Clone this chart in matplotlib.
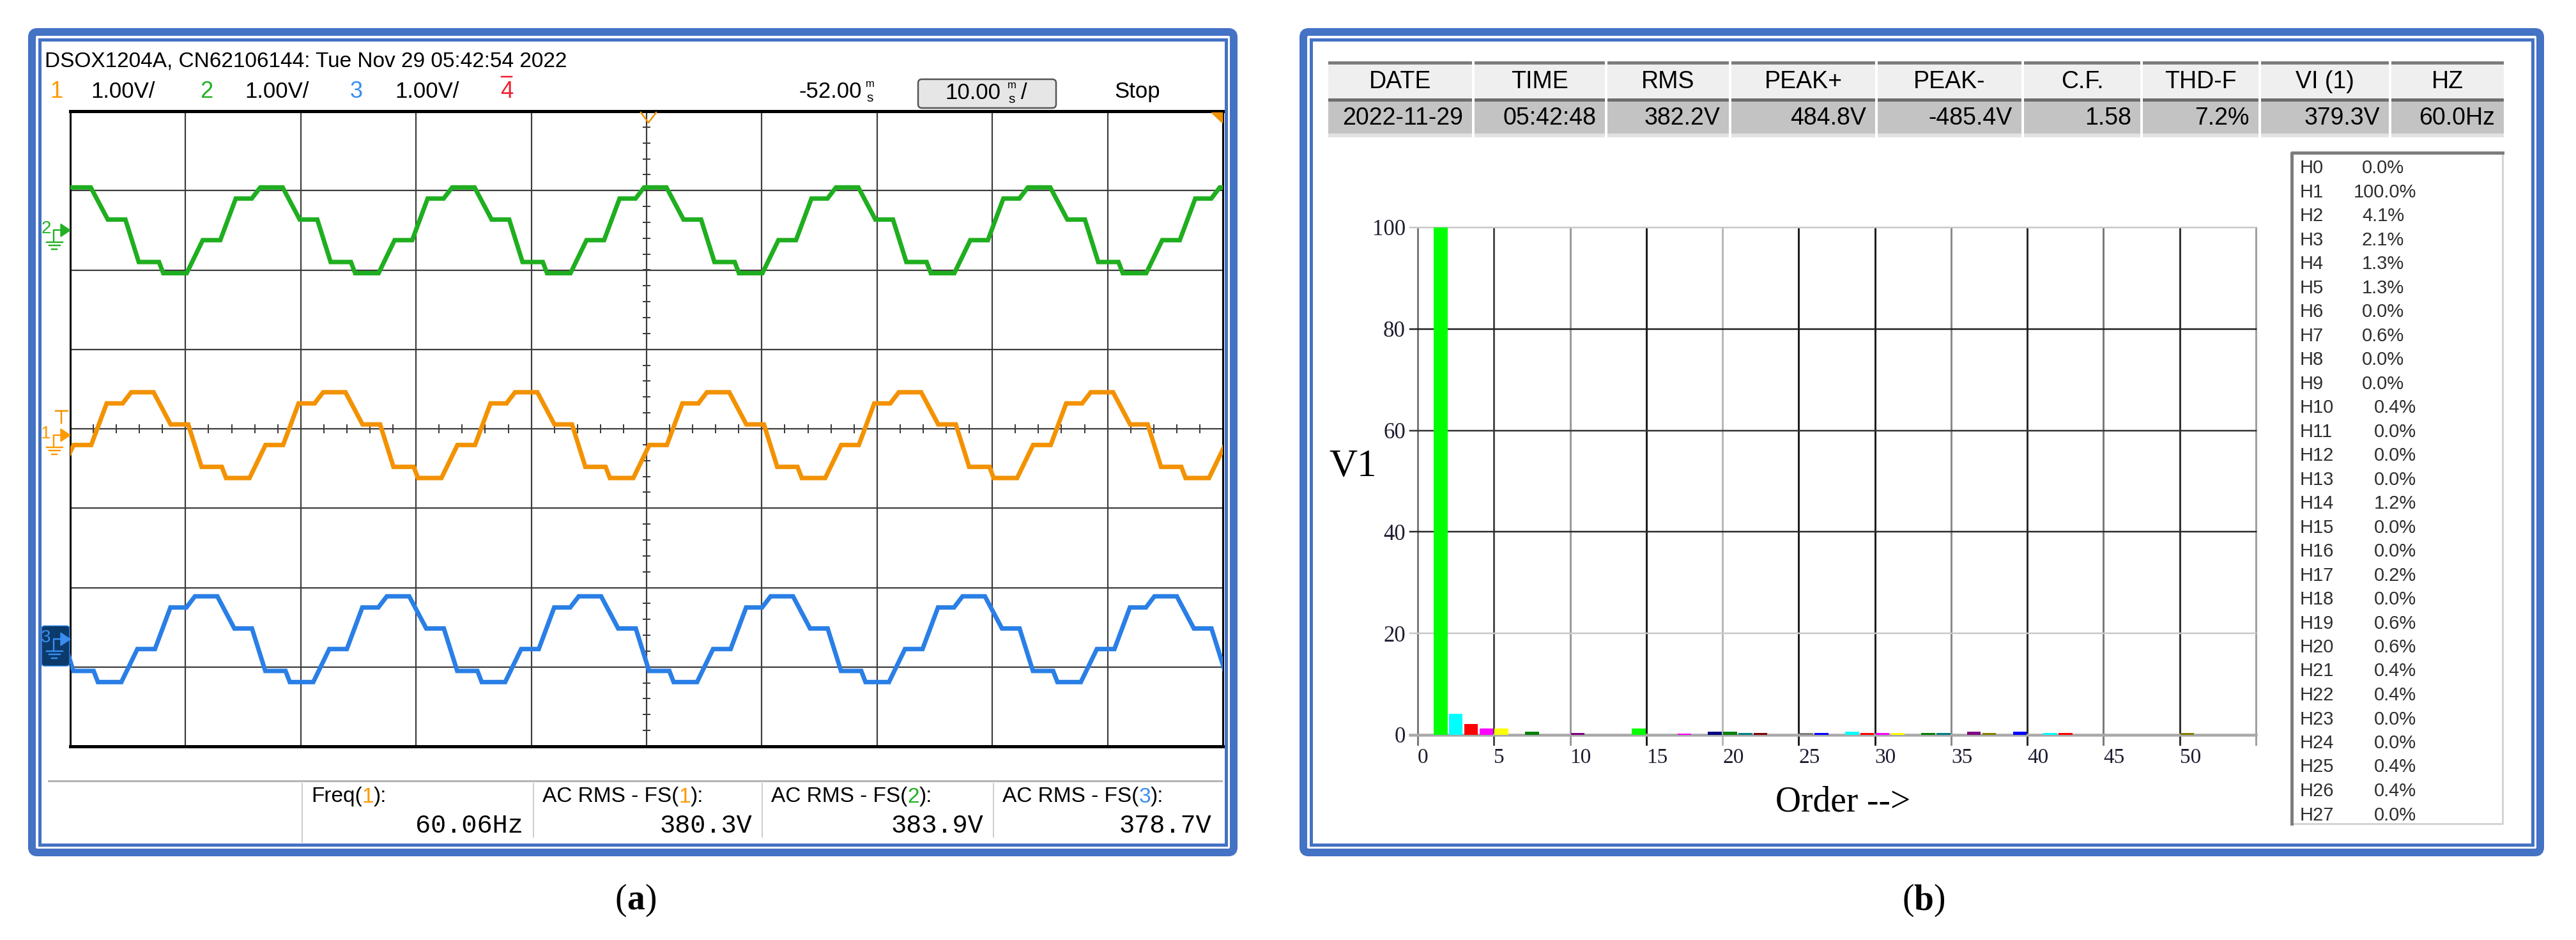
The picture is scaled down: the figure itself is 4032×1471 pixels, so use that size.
import matplotlib
matplotlib.use("Agg")
import matplotlib.pyplot as plt
from matplotlib.patches import Rectangle, FancyBboxPatch, Polygon
import numpy as np

W, H, DPI = 4032, 1471, 100
PX = 72.0 / DPI  # points per pixel

# ---------------- data: oscilloscope (a) ----------------
scope_title = "DSOX1204A, CN62106144: Tue Nov 29 05:42:54 2022"
channel_ids = ["1", "2", "3", "4"]
channel_scales = ["1.00V/", "1.00V/", "1.00V/"]
time_delay = "-52.00"
time_scale = "10.00"
run_state = "Stop"
meas_names = ["Freq(", "AC RMS - FS(", "AC RMS - FS(", "AC RMS - FS("]
meas_channels = ["1", "1", "2", "3"]
meas_values = ["60.06Hz", "380.3V", "383.9V", "378.7V"]

signal_freq_hz = 60.06
ms_per_div = 10.0
ch_offset_div = [-0.08, 2.50, -2.65]     # ch1, ch2, ch3 ground levels
ch_amp_div = 0.54
ch_peak_ms = [6.21, 17.41, 11.74]        # time of first peak on screen
# one cycle of the stepped waveform: phase (deg, relative to peak) and normalised level
cycle_phase_deg = [-180, -158, -128, -95, -66, -36, -20, 22, 54, 87, 112, 150, 158, 180]
cycle_level = [-1.0, -1.0, -0.23, -0.23, 0.74, 0.74, 1.0, 1.0, 0.25, 0.25, -0.74, -0.74, -1.0, -1.0]

# ---------------- data: harmonic analyser (b) ----------------
table_headers = ["DATE", "TIME", "RMS", "PEAK+", "PEAK-", "C.F.", "THD-F", "VI (1)", "HZ"]
table_values = ["2022-11-29", "05:42:48", "382.2V", "484.8V", "-485.4V", "1.58", "7.2%", "379.3V", "60.0Hz"]
harm_list_pct = [0.0, 100.0, 4.1, 2.1, 1.3, 1.3, 0.0, 0.6, 0.0, 0.0, 0.4, 0.0, 0.0, 0.0,
                 1.2, 0.0, 0.0, 0.2, 0.0, 0.6, 0.6, 0.4, 0.4, 0.0, 0.0, 0.4, 0.4, 0.0]
bar_orders = [1, 2, 3, 4, 5, 7, 10, 14, 17, 19, 20, 21, 22, 25, 26, 28, 29, 30, 31,
              33, 34, 36, 37, 39, 41, 42, 50]
bar_values = [100, 4.1, 2.1, 1.3, 1.3, 0.6, 0.4, 1.2, 0.3, 0.6, 0.6, 0.4, 0.4, 0.4, 0.4,
              0.6, 0.4, 0.4, 0.4, 0.4, 0.4, 0.6, 0.4, 0.6, 0.4, 0.4, 0.4]
bar_xticks = [0, 5, 10, 15, 20, 25, 30, 35, 40, 45, 50]
bar_yticks = [0, 20, 40, 60, 80, 100]
captions = ["a", "b"]

# ---------------- styles ----------------
BLUE = "#4472C4"
TRACE = ["#f39200", "#1fae1f", "#2a7fe6"]
CHTXT = ["#ff9900", "#22b022", "#3a8ef0", "#ee2233"]
BAR_PALETTE = ["#00ff00", "#00ffff", "#ff0000", "#ff00ff", "#ffff00", "#000080", "#008000",
               "#008080", "#800000", "#800080", "#808000", "#808080", "#0000ff"]
NARROW = ["Liberation Sans", "DejaVu Sans"]
SANS = ["Liberation Sans", "DejaVu Sans"]
SERIF = ["Liberation Serif", "DejaVu Serif"]
MONO = ["Liberation Mono", "DejaVu Sans Mono"]

fig = plt.figure(figsize=(W / DPI, H / DPI), dpi=DPI, facecolor="white")


def axes_px(x0, y0, x1, y1):
    return [x0 / W, 1 - y1 / H, (x1 - x0) / W, (y1 - y0) / H]


# ================= (a) oscilloscope screen =================
GX0, GY0, GX1, GY1 = 110, 174, 1914, 1168
sc = fig.add_axes(axes_px(GX0, GY0, GX1, GY1))
sc.set_xlim(0, 10)
sc.set_ylim(-4, 4)
sc.set_xticks([])
sc.set_yticks([])
for s in ["top", "bottom"]:
    sc.spines[s].set_linewidth(5 * PX)
for s in ["left", "right"]:
    sc.spines[s].set_linewidth(3 * PX)
for s in sc.spines.values():
    s.set_color("black")
for i in range(1, 10):
    sc.axvline(i, color="#3c3c3c", lw=2.2 * PX, zorder=1)
for j in range(-3, 4):
    sc.axhline(j, color="#3c3c3c", lw=2.2 * PX, zorder=1)
for t in np.arange(0.2, 10, 0.2):
    sc.plot([t, t], [-0.045, 0.045], color="#3c3c3c", lw=2 * PX, zorder=1)
for t in np.arange(-3.8, 4, 0.2):
    sc.plot([4.97, 5.03], [t, t], color="#3c3c3c", lw=2 * PX, zorder=1)

period_ms = 1000.0 / signal_freq_hz
for ch in range(3):
    xs, ys = [], []
    for k in range(-2, 8):
        for ph, lv in zip(cycle_phase_deg, cycle_level):
            t = ch_peak_ms[ch] + (ph / 360.0 + k) * period_ms
            xs.append(t / ms_per_div)
            ys.append(ch_offset_div[ch] + ch_amp_div * lv)
    sc.plot(xs, ys, color=TRACE[ch], lw=7 * PX, zorder=3, solid_joinstyle="miter")

# ================= (b) harmonic bar chart =================
BX0, BY0, BX1, BY1 = 2219, 356, 3531, 1150
bx = fig.add_axes(axes_px(BX0, BY0, BX1, BY1))
bx.set_xlim(0, 55)
bx.set_ylim(0, 100)
for s in bx.spines.values():
    s.set_visible(False)
bx.patch.set_alpha(0)
vgrid_col = ["#7a7a7a", "#4a4a4a", "#9a9a9a", "#1e1e1e", "#b8b8b8", "#1e1e1e",
             "#1e1e1e", "#8a8a8a", "#2a2a2a", "#7a7a7a", "#333333", "#a0a0a0"]
for i, c in enumerate(vgrid_col):
    bx.plot([5 * i, 5 * i], [-1.9, 100], color=c, lw=3 * PX, clip_on=False, zorder=1)
hgrid_col = {0: "#a8a8a8", 20: "#c8c8c8", 40: "#2a2a2a", 60: "#333333", 80: "#1e1e1e", 100: "#c8c8c8"}
for v, c in hgrid_col.items():
    bx.plot([-0.5, 55], [v, v], color=c, lw=(4.5 if v == 0 else 2.5) * PX, clip_on=False, zorder=1)
bar_colors = [BAR_PALETTE[(o - 1) % len(BAR_PALETTE)] for o in bar_orders]
bx.bar([o + 0.05 for o in bar_orders], bar_values, width=0.9, align="edge",
       color=bar_colors, zorder=2)
bx.set_xticks(bar_xticks)
bx.set_xticklabels([str(v) for v in bar_xticks], family=SERIF, fontsize=24, color="#1c1c30")
for lbl in bx.get_xticklabels():
    lbl.set_ha("left")
bx.set_yticks(bar_yticks)
bx.set_yticklabels([str(v) for v in bar_yticks], family=SERIF, fontsize=25, color="#1c1c30")
bx.tick_params(axis="x", length=0, pad=20 * PX)
bx.tick_params(axis="y", length=0, pad=19 * PX)

# ================= overlay (frames, texts, decorations) =================
ov = fig.add_axes([0, 0, 1, 1])
ov.set_xlim(0, W)
ov.set_ylim(H, 0)
ov.axis("off")
ov.patch.set_alpha(0)


def frame(x0, y0, x1, y1):
    ov.add_patch(FancyBboxPatch((x0 + 6, y0 + 6), x1 - x0 - 12, y1 - y0 - 12,
                                boxstyle="round,pad=0,rounding_size=8",
                                fill=False, ec=BLUE, lw=12 * PX))
    ov.add_patch(Rectangle((x0 + 18, y0 + 18), x1 - x0 - 36, y1 - y0 - 36,
                           fill=False, ec=BLUE, lw=5 * PX))


frame(44, 44, 1937, 1340)
frame(2034, 44, 3982, 1340)


def chain(x, y, parts, colors, **kw):
    t = ov.text(x, y, parts[0], color=colors[0], ha="left", va="center", **kw)
    for p, c in zip(parts[1:], colors[1:]):
        t = ov.annotate(p, xy=(1, 0), xycoords=t, ha="left", va="bottom", color=c, **kw)
    return t


# --- scope header ---
ov.text(70, 96, scope_title, fontsize=24, family=NARROW, ha="left", va="center")
ch_x = [88, 323, 558, 793]
sc_x = [142, 383, 618]
for i, cid in enumerate(channel_ids):
    ov.text(ch_x[i], 143, cid, fontsize=26, family=NARROW, color=CHTXT[i], ha="center", va="center")
for i, s in enumerate(channel_scales):
    ov.text(sc_x[i], 143, s, fontsize=25, family=NARROW, ha="left", va="center")
ov.plot([785, 801], [120, 120], color=CHTXT[3], lw=2.5 * PX)
ov.text(1250, 143, time_delay, fontsize=25, family=NARROW, ha="left", va="center")
ov.text(1362, 131, "m", fontsize=12, family=NARROW, ha="center", va="center")
ov.text(1362, 153, "s", fontsize=15, family=NARROW, ha="center", va="center")
ov.add_patch(FancyBboxPatch((1437, 124), 216, 45, boxstyle="round,pad=0,rounding_size=6",
                            fc="#e6e6e6", ec="#555555", lw=2.5 * PX))
ov.text(1479, 145, time_scale, fontsize=25, family=NARROW, ha="left", va="center")
ov.text(1584, 133, "m", fontsize=12, family=NARROW, ha="center", va="center")
ov.text(1584, 155, "s", fontsize=15, family=NARROW, ha="center", va="center")
ov.text(1598, 145, "/", fontsize=25, family=NARROW, ha="left", va="center")
ov.text(1744, 143, run_state, fontsize=25, family=NARROW, ha="left", va="center")

# trigger markers at top of grid
ov.plot([1003, 1015, 1027], [176, 192, 176], color=TRACE[0], lw=2.5 * PX)
ov.add_patch(Polygon([(1896, 176), (1913, 176), (1913, 192)], closed=True, color=TRACE[0]))


# --- channel ground markers ---
def y_px(div):
    return GY0 + (4 - div) * (GY1 - GY0) / 8.0


def ch_marker(yc, color, label, boxed=False):
    if boxed:
        ov.add_patch(FancyBboxPatch((65, yc - 21), 44, 63, boxstyle="round,pad=0,rounding_size=5",
                                    fc="#0b3a6b", ec="#3a8ef0", lw=1.5 * PX, zorder=3))
    ov.text(72, yc - 2, label, color=color, fontsize=20, family=NARROW,
            ha="center", va="center", zorder=4)
    ov.plot([84, 84, 96], [yc + 18, yc, yc], color=color, lw=2.4 * PX, zorder=4)
    for xa, xb, yy in [(73, 98, yc + 19), (77, 94, yc + 24), (81, 89, yc + 30)]:
        ov.plot([xa, xb], [yy, yy], color=color, lw=2.4 * PX, zorder=4)
    ov.add_patch(Polygon([(95, yc - 10), (95, yc + 10), (110, yc)], closed=True,
                         color=color, zorder=4))


ch_marker(y_px(ch_offset_div[1]), CHTXT[1], channel_ids[1])
ch_marker(y_px(ch_offset_div[0]), CHTXT[0], channel_ids[0])
ch_marker(y_px(ch_offset_div[2]), CHTXT[2], channel_ids[2], boxed=True)
ty = y_px(ch_offset_div[0]) - 38
ov.plot([87, 106], [ty, ty], color=TRACE[0], lw=2.5 * PX)
ov.plot([96, 96], [ty, ty + 19], color=TRACE[0], lw=2.5 * PX)

# --- measurement area ---
ov.plot([76, 1912], [1222, 1222], color="#b4b4b4", lw=3 * PX)
div_x = [473, 835, 1193, 1555, 1912]
for k, x in enumerate(div_x[:-1]):
    ov.plot([x, x], [1226, 1318 if k == 0 else 1310], color="#bdbdbd", lw=1.5 * PX)
for k in range(4):
    chain(div_x[k] + 14, 1247, [meas_names[k], meas_channels[k], "):"],
          ["black", CHTXT[int(meas_channels[k]) - 1], "black"], fontsize=24, family=NARROW)
    ov.text(div_x[k + 1] - 16, 1292, meas_values[k], fontsize=29, family=MONO,
            ha="right", va="center")

# --- table (b) ---
col_edges = [2077, 2306, 2514, 2708, 2937, 3166, 3352, 3537, 3741, 3921]
for i, (hd, vl) in enumerate(zip(table_headers, table_values)):
    x0, x1 = col_edges[i] + 2, col_edges[i + 1] - 2
    ov.add_patch(Rectangle((x0, 96), x1 - x0, 58, fc="#efefef", ec="none"))
    ov.add_patch(Rectangle((x0, 96), x1 - x0, 5, fc="#7c7c7c", ec="none"))
    ov.add_patch(Rectangle((x0, 154), x1 - x0, 55, fc="#c3c3c3", ec="none"))
    ov.add_patch(Rectangle((x0, 154), x1 - x0, 5, fc="#6e6e6e", ec="none"))
    ov.add_patch(Rectangle((x0, 209), x1 - x0, 6, fc="#e2e2e2", ec="none"))
    ov.text((x0 + x1) / 2, 128, hd, fontsize=27, family=SANS, ha="center", va="center")
    ov.text(x1 - 14, 185, vl, fontsize=27, family=SANS, ha="right", va="center")

# --- harmonic list box ---
ov.add_patch(Rectangle((3585, 237), 332, 1052, fc="white", ec="none"))
ov.plot([3917, 3917, 3587], [239, 1289, 1289], color="#d4d4d4", lw=3 * PX)
ov.plot([3587, 3587, 3917], [1289, 239, 239], color="#7d7d7d", lw=5 * PX)
for n, v in enumerate(harm_list_pct):
    yy = 263 + 37.5 * n
    ov.text(3600, yy, f"H{n}", fontsize=21, family=SANS, color="#2e2e2e", ha="left", va="center")
    xr = 3782 if (n >= 10 or v >= 100) else 3763
    ov.text(xr, yy, f"{v:.1f}%", fontsize=21, family=SANS, color="#2e2e2e", ha="right", va="center")

# --- axis titles (b) ---
ov.text(2118, 730, "V1", fontsize=44, family=SERIF, ha="center", va="center")
ov.text(2885, 1255, "Order -->", fontsize=40, family=SERIF, ha="center", va="center")

# --- captions ---
for cx, cap in zip([995, 3011], captions):
    t = ov.text(cx, 1409, cap, fontsize=40, family=SERIF, fontweight="bold", ha="center", va="center")
    ov.annotate("(", xy=(0, 0), xycoords=t, ha="right", va="bottom", fontsize=40, family=SERIF)
    ov.annotate(")", xy=(1, 0), xycoords=t, ha="left", va="bottom", fontsize=40, family=SERIF)

fig.savefig("out.png", dpi=DPI, facecolor="white")
